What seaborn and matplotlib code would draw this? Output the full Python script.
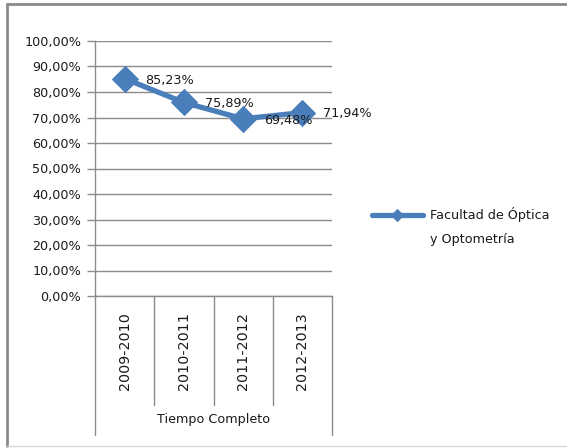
import pandas as pd
import matplotlib.pyplot as plt
import seaborn as sns
from matplotlib.lines import Line2D

# --- Data ---
periods = ['2009-2010', '2010-2011', '2011-2012', '2012-2013']
values = [0.8523, 0.7589, 0.6948, 0.7194]
value_labels = ['85,23%', '75,89%', '69,48%', '71,94%']
y_ticks = [0.0, 0.1, 0.2, 0.3, 0.4, 0.5, 0.6, 0.7, 0.8, 0.9, 1.0]
y_tick_labels = ['0,00%', '10,00%', '20,00%', '30,00%', '40,00%', '50,00%',
                 '60,00%', '70,00%', '80,00%', '90,00%', '100,00%']
group_label = 'Tiempo Completo'
series_name = 'Facultad de Óptica\ny Optometría'

df = pd.DataFrame({'Periodo': periods, 'Valor': values})

# --- Style ---
sns.set_style('white')
plt.rcParams['font.family'] = ['DejaVu Sans']
plt.rcParams['text.color'] = '#1a1a1a'

blue = '#4A7EBB'
grid_gray = '#8C8C8C'
fs = 9.2

fig = plt.figure(figsize=(5.67, 4.48), dpi=100)
ax = fig.add_axes([95 / 567, 1 - 296 / 448, 237 / 567, 255 / 448])

sns.lineplot(data=df, x='Periodo', y='Valor', ax=ax, sort=False, color=blue,
             linewidth=3.8, marker='D', markersize=13, markeredgecolor=blue,
             label=series_name)

ax.set_xlim(-0.5, len(periods) - 0.5)
ax.set_ylim(0, 1)
ax.set_yticks(y_ticks)
ax.set_yticklabels(y_tick_labels, fontsize=fs, color='#1a1a1a')
ax.yaxis.grid(True, color=grid_gray, linewidth=1)
ax.set_axisbelow(True)
ax.tick_params(axis='y', direction='out', length=6, width=1, color=grid_gray,
               pad=4, left=True)
ax.set_xticks(range(len(periods)))
ax.set_xticklabels([])
ax.tick_params(axis='x', length=0)
ax.set_xlabel('')
ax.set_ylabel('')
for side in ['top', 'right']:
    ax.spines[side].set_visible(False)
for side in ['left', 'bottom']:
    ax.spines[side].set_color(grid_gray)
    ax.spines[side].set_linewidth(1)

# Data labels
for i, (v, lab) in enumerate(zip(values, value_labels)):
    ax.annotate(lab, (i, v), xytext=(15, -1), textcoords='offset points',
                va='center', ha='left', fontsize=fs)

# Multi-level category axis
trans = ax.get_xaxis_transform()
for i, p in enumerate(periods):
    ax.text(i, -0.215, p, transform=trans, rotation=90, ha='center',
            va='center', fontsize=10.3)
for xb in [-0.5, 0.5, 1.5, 2.5, 3.5]:
    bottom = -0.545 if xb in (-0.5, 3.5) else -0.427
    ax.plot([xb, xb], [0, bottom], transform=trans, clip_on=False,
            color=grid_gray, linewidth=1)
ax.text(1.5, -0.486, group_label, transform=trans, ha='center', va='center',
        fontsize=fs)

# Legend
leg = ax.legend(loc='center left', bbox_to_anchor=(360 / 567, 1 - 214 / 448),
                bbox_transform=fig.transFigure, frameon=False, fontsize=fs,
                handlelength=4.0, handletextpad=0.6)
txt = leg.get_texts()[0]
txt.set_linespacing(2.1)
txt.set_y(-13)
leg.legend_handles[0].set_markersize(6)

# Chart border
fig.add_artist(Line2D([7 / 567, 1], [1 - 4 / 448, 1 - 4 / 448],
                      transform=fig.transFigure, color='#8a8a8a', linewidth=2))
fig.add_artist(Line2D([7 / 567, 7 / 567], [1 - 4 / 448, 1 - 446 / 448],
                      transform=fig.transFigure, color='#8a8a8a', linewidth=2))
fig.add_artist(Line2D([7 / 567, 1], [1 - 446 / 448, 1 - 446 / 448],
                      transform=fig.transFigure, color='#d9d9d9', linewidth=1))

fig.savefig('out.png', dpi=100)
